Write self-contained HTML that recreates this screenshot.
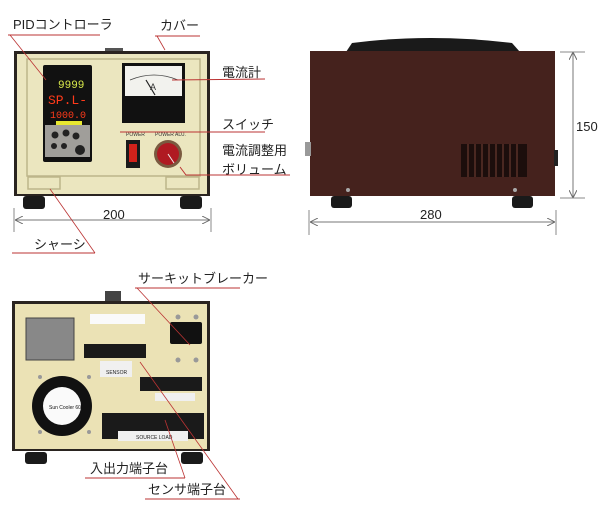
<!DOCTYPE html>
<html><head><meta charset="utf-8"><style>
html,body{margin:0;padding:0;background:#fff;width:600px;height:509px;overflow:hidden}
svg{display:block}
text{font-family:"Liberation Sans","Noto Sans CJK JP",sans-serif;fill:#222}
</style></head><body>
<svg width="600" height="509" viewBox="0 0 600 509" xmlns="http://www.w3.org/2000/svg">
<defs>
<marker id="ar" viewBox="0 0 10 10" refX="10" refY="5" markerWidth="8" markerHeight="8" orient="auto-start-reverse"><path d="M0,0 L10,5 L0,10" fill="none" stroke="#666" stroke-width="1.2"/></marker>
</defs>
<!-- FRONT UNIT -->
<rect x="105" y="48" width="18" height="6" fill="#555"/>
<rect x="14" y="51" width="196" height="145" fill="#2a2420"/>
<rect x="17" y="54" width="190" height="140" fill="#ebe6bf"/>
<rect x="27" y="59" width="173" height="117" fill="none" stroke="#bdb58a" stroke-width="1.5"/>
<rect x="23" y="196" width="22" height="13" rx="3" fill="#1a1a1a"/>
<rect x="180" y="196" width="22" height="13" rx="3" fill="#1a1a1a"/>
<rect x="28" y="177" width="32" height="12" fill="none" stroke="#bdb58a" stroke-width="1.5"/>
<rect x="166" y="177" width="33" height="12" fill="none" stroke="#bdb58a" stroke-width="1.5"/>
<!-- PID -->
<rect x="43" y="65" width="49" height="97" rx="2" fill="#111"/>
<text x="58" y="88" font-size="11" style="fill:#d8e84a;font-family:'Liberation Mono',monospace">9999</text>
<text x="48" y="104" font-size="13" style="fill:#ff3a1a;font-family:'Liberation Mono',monospace">SP.L-</text>
<text x="50" y="118" font-size="10" style="fill:#ff3a1a;font-family:'Liberation Mono',monospace">1000.0</text>
<rect x="56" y="121" width="26" height="4" fill="#e8e830"/>
<rect x="45" y="125" width="45" height="32" fill="#a09e9a"/>
<circle cx="55" cy="135" r="3.5" fill="#222"/><circle cx="66" cy="133" r="3.5" fill="#222"/><circle cx="76" cy="136" r="3.5" fill="#222"/>
<circle cx="54" cy="146" r="3" fill="#222"/><circle cx="64" cy="146" r="3" fill="#222"/><circle cx="80" cy="150" r="5" fill="#222"/>
<!-- meter -->
<rect x="122" y="63" width="63" height="60" fill="#111"/>
<rect x="125" y="66" width="57" height="30" fill="#f2f2ee"/>
<path d="M130,80 Q154,70 178,80" fill="none" stroke="#444" stroke-width="0.8"/>
<line x1="146" y1="80" x2="155" y2="95" stroke="#222" stroke-width="1.2"/>
<text x="150" y="90" font-size="9" style="fill:#333">A</text>
<!-- switch -->
<text x="126" y="136" font-size="5" style="fill:#333">POWER</text>
<text x="155" y="136" font-size="5" style="fill:#333">POWER ADJ.</text>
<rect x="126" y="140" width="14" height="28" fill="#1a1a1a"/>
<rect x="129" y="144" width="8" height="18" fill="#d2221b"/>
<circle cx="168" cy="154" r="14" fill="#7a5a40"/>
<circle cx="168" cy="154" r="11" fill="#b01a22"/>
<line x1="168" y1="154" x2="174" y2="163" stroke="#eee" stroke-width="1"/>
<!-- front labels -->
<text x="13" y="29" font-size="13">PIDコントローラ</text>
<polyline points="8,35 100,35" stroke="#b33" fill="none" stroke-width="1"/>
<line x1="10" y1="35" x2="46" y2="80" stroke="#b33" stroke-width="0.8"/>
<text x="160" y="30" font-size="13">カバー</text>
<line x1="155" y1="36" x2="200" y2="36" stroke="#b33"/>
<line x1="157" y1="36" x2="165" y2="50" stroke="#b33" stroke-width="0.8"/>
<text x="222" y="77" font-size="13">電流計</text>
<line x1="172" y1="80" x2="265" y2="79" stroke="#b33"/>
<text x="222" y="129" font-size="13">スイッチ</text>
<line x1="120" y1="132" x2="265" y2="132" stroke="#b33"/>
<text x="222" y="155" font-size="13">電流調整用</text>
<text x="222" y="174" font-size="13">ボリューム</text>
<polyline points="180,167 186,175 290,175" stroke="#b33" fill="none"/>
<text x="103" y="219" font-size="13">200</text>
<line x1="15" y1="220" x2="210" y2="220" stroke="#777" marker-start="url(#ar)" marker-end="url(#ar)"/>
<line x1="14" y1="208" x2="14" y2="232" stroke="#888"/>
<line x1="211" y1="208" x2="211" y2="232" stroke="#888"/>
<text x="34" y="249" font-size="13">シャーシ</text>
<line x1="12" y1="253" x2="95" y2="253" stroke="#b33"/>
<line x1="95" y1="253" x2="50" y2="189" stroke="#b33" stroke-width="0.8"/>
<!-- SIDE UNIT -->
<path d="M346,52 L352,43 Q430,33 512,43 L520,52 Z" fill="#1a1a1a"/>
<rect x="310" y="51" width="245" height="145" fill="#45221d"/>
<rect x="305" y="142" width="6" height="14" fill="#999"/>
<rect x="554" y="150" width="4" height="16" fill="#222"/>
<g fill="#1c0e0c"><rect x="461" y="144" width="66" height="33"/></g>
<g stroke="#5a3028" stroke-width="1.5"><line x1="468" y1="144" x2="468" y2="177"/><line x1="475" y1="144" x2="475" y2="177"/><line x1="482" y1="144" x2="482" y2="177"/><line x1="489" y1="144" x2="489" y2="177"/><line x1="496" y1="144" x2="496" y2="177"/><line x1="503" y1="144" x2="503" y2="177"/><line x1="510" y1="144" x2="510" y2="177"/><line x1="517" y1="144" x2="517" y2="177"/></g>
<circle cx="348" cy="190" r="2" fill="#aaa"/><circle cx="515" cy="190" r="2" fill="#aaa"/>
<rect x="331" y="196" width="21" height="12" rx="3" fill="#1a1a1a"/>
<rect x="512" y="196" width="21" height="12" rx="3" fill="#1a1a1a"/>
<text x="420" y="219" font-size="13">280</text>
<line x1="310" y1="222" x2="555" y2="222" stroke="#777" marker-start="url(#ar)" marker-end="url(#ar)"/>
<line x1="309" y1="210" x2="309" y2="235" stroke="#888"/>
<line x1="556" y1="210" x2="556" y2="235" stroke="#888"/>
<line x1="573" y1="52" x2="573" y2="198" stroke="#777" marker-start="url(#ar)" marker-end="url(#ar)"/>
<line x1="560" y1="52" x2="585" y2="52" stroke="#888"/>
<line x1="560" y1="198" x2="585" y2="198" stroke="#888"/>
<text x="576" y="131" font-size="13">150</text>
<!-- BACK UNIT -->
<rect x="105" y="291" width="16" height="10" fill="#444"/>
<rect x="12" y="301" width="198" height="150" fill="#2a2420"/>
<rect x="15" y="304" width="192" height="145" fill="#ebe2b5"/>
<rect x="25" y="452" width="22" height="12" rx="3" fill="#1a1a1a"/>
<rect x="181" y="452" width="22" height="12" rx="3" fill="#1a1a1a"/>
<rect x="26" y="318" width="48" height="42" fill="#888" stroke="#444"/>
<rect x="90" y="314" width="55" height="10" fill="#fafafa"/>
<rect x="170" y="322" width="32" height="22" rx="2" fill="#111"/>
<circle cx="178" cy="317" r="2.5" fill="#999"/><circle cx="196" cy="317" r="2.5" fill="#999"/>
<circle cx="178" cy="360" r="2.5" fill="#999"/><circle cx="196" cy="360" r="2.5" fill="#999"/>
<rect x="84" y="344" width="62" height="14" fill="#1a1a1a"/>
<rect x="100" y="361" width="32" height="16" fill="#f0f0f0"/>
<text x="106" y="374" font-size="5" style="fill:#222">SENSOR</text>
<rect x="140" y="377" width="62" height="14" fill="#1a1a1a"/>
<rect x="155" y="393" width="40" height="8" fill="#f0f0f0"/>
<circle cx="62" cy="406" r="30" fill="#111"/>
<circle cx="62" cy="406" r="19" fill="#fafafa"/>
<text x="49" y="409" font-size="5" style="fill:#111">Sun Cooler 60</text>
<circle cx="40" cy="377" r="2" fill="#999"/><circle cx="89" cy="377" r="2" fill="#999"/>
<circle cx="40" cy="432" r="2" fill="#999"/><circle cx="89" cy="432" r="2" fill="#999"/>
<rect x="102" y="413" width="102" height="26" fill="#1a1a1a"/>
<rect x="118" y="431" width="70" height="10" fill="#f0f0f0"/>
<text x="136" y="439" font-size="5" style="fill:#222">SOURCE    LOAD</text>
<text x="138" y="283" font-size="13">サーキットブレーカー</text>
<line x1="135" y1="288" x2="240" y2="288" stroke="#b33"/>
<line x1="137" y1="288" x2="190" y2="345" stroke="#b33" stroke-width="0.8"/>
<text x="90" y="473" font-size="13">入出力端子台</text>
<line x1="85" y1="478" x2="185" y2="478" stroke="#b33"/>
<line x1="185" y1="478" x2="165" y2="420" stroke="#b33" stroke-width="0.8"/>
<text x="148" y="494" font-size="13">センサ端子台</text>
<line x1="145" y1="499" x2="240" y2="499" stroke="#b33"/>
<line x1="238" y1="499" x2="140" y2="362" stroke="#b33" stroke-width="0.8"/>
</svg>
</body></html>
